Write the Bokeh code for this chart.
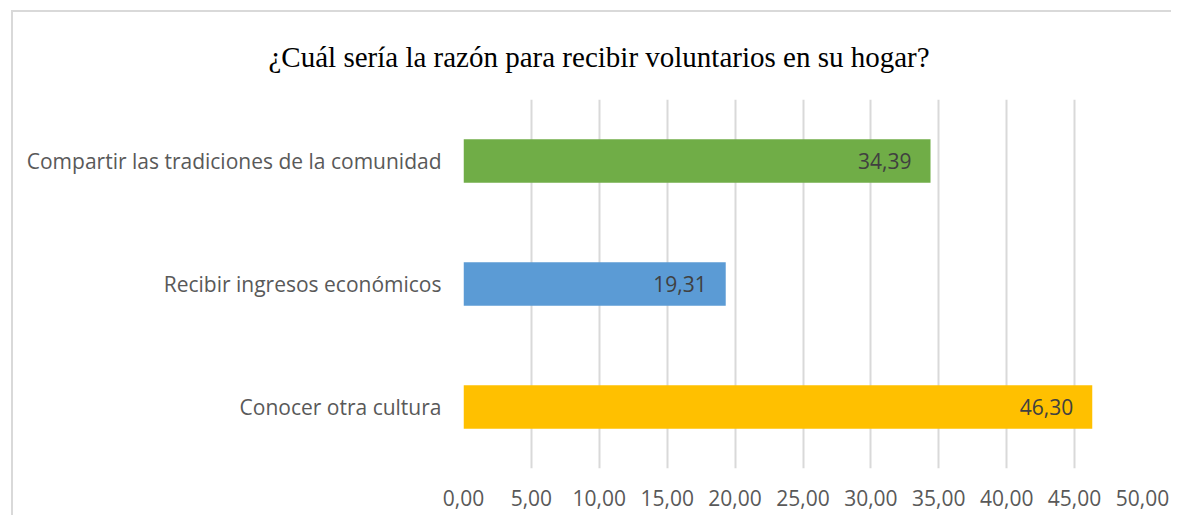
from bokeh.plotting import figure
from bokeh.models import ColumnDataSource, FactorRange, Range1d, CustomJSTickFormatter, FixedTicker
from bokeh.core.properties import value
from bokeh.embed import file_html
from bokeh.resources import INLINE

# Data (bottom to top order in the chart)
categories = ["Conocer otra cultura", "Recibir ingresos económicos", "Compartir las tradiciones de la comunidad"]
values = [46.30, 19.31, 34.39]
colors = ["#FFC000", "#5B9BD5", "#70AD47"]
labels = ["46,30", "19,31", "34,39"]
x_ticks = [0, 5, 10, 15, 20, 25, 30, 35, 40, 45, 50]
title_text = "¿Cuál sería la razón para recibir voluntarios en su hogar?"

src = ColumnDataSource(dict(cat=categories, val=values, color=colors, lab=labels))

p = figure(
    width=1160, height=505,
    y_range=FactorRange(factors=categories, range_padding=0),
    x_range=Range1d(0, 50),
    output_backend="svg", toolbar_location=None,
    min_border_left=450, min_border_right=31, min_border_top=84, min_border_bottom=49,
    styles={"margin-left": "11px", "margin-top": "10px",
            "border-top": "2px solid #d9d9d9", "border-left": "2px solid #d9d9d9"},
)

p.hbar(y="cat", right="val", left=0, height=0.355, fill_color="color", line_color=None, source=src)
p.text(x="val", y="cat", text="lab", source=src, text_align="right", text_baseline="middle",
       x_offset=-19, text_color="#404040", text_font=value("Open Sans"), text_font_size="21px")

p.title.text = title_text
p.title.text_font = "Liberation Serif"
p.title.text_font_size = "29px"
p.title.text_font_style = "normal"
p.title.text_color = "#000000"
p.title.align = "left"
p.title.offset = -195
p.title.standoff = 53

p.outline_line_color = None
p.ygrid.grid_line_color = None
p.xgrid.grid_line_color = "#d9d9d9"
p.xgrid.grid_line_width = 2
p.xaxis.ticker = FixedTicker(ticks=x_ticks)
p.xaxis.formatter = CustomJSTickFormatter(code="return tick.toFixed(2).replace('.', ',');")

for ax in (p.xaxis[0], p.yaxis[0]):
    ax.axis_line_color = None
    ax.major_tick_line_color = None
    ax.minor_tick_line_color = None
    ax.major_label_text_color = "#595959"
    ax.major_label_text_font = "Open Sans"
    ax.major_label_text_font_size = "21px"

p.xaxis.major_label_standoff = 15
p.yaxis.major_label_standoff = 16

p.background_fill_color = "white"
p.border_fill_color = "white"

open("out.html", "w").write(file_html(p, INLINE))
